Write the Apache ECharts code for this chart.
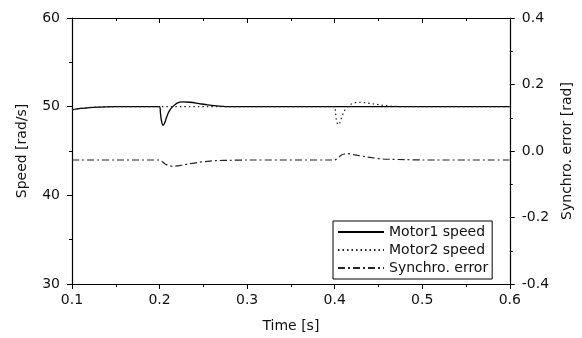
<!DOCTYPE html>
<html>
<head>
<meta charset="utf-8">
<script src="https://cdn.jsdelivr.net/npm/echarts@6/dist/echarts.min.js"></script>
<style>
  html, body { margin: 0; padding: 0; background: #fff; }
  #chart { width: 582px; height: 338px; }
</style>
</head>
<body>
<div id="chart"></div>
<script>
// time [s]
var time = [0.1, 0.11, 0.12, 0.13, 0.15, 0.2, 0.201, 0.202, 0.204, 0.206, 0.208, 0.211, 0.215, 0.22, 0.226, 0.235, 0.245, 0.255, 0.265, 0.28, 0.3,
  0.4, 0.401, 0.402, 0.404, 0.406, 0.408, 0.411, 0.415, 0.42, 0.426, 0.435, 0.445, 0.455, 0.465, 0.48, 0.5, 0.6];
// speed [rad/s]
var motor1 = [49.65, 49.8, 49.9, 49.95, 50, 50, 49.3, 48.5, 47.9, 48.2, 48.8, 49.5, 50.0, 50.4, 50.55, 50.5, 50.35, 50.2, 50.1, 50.0, 50,
  50, 50, 50, 50, 50, 50, 50, 50, 50, 50, 50, 50, 50, 50, 50, 50, 50];
var motor2 = [49.65, 49.8, 49.9, 49.95, 50, 50, 50, 50, 50, 50, 50, 50, 50, 50, 50, 50, 50, 50, 50, 50, 50,
  50, 49.3, 48.5, 47.95, 48.2, 48.8, 49.5, 50.0, 50.35, 50.5, 50.45, 50.3, 50.15, 50.05, 50, 50, 50];
// synchro error [rad]
var syncErr = [-0.027, -0.027, -0.027, -0.027, -0.027, -0.027, -0.028, -0.03, -0.034, -0.038, -0.041, -0.044, -0.046, -0.045, -0.042, -0.038, -0.034, -0.031, -0.029, -0.028, -0.027,
  -0.027, -0.026, -0.024, -0.02, -0.016, -0.012, -0.009, -0.008, -0.01, -0.013, -0.017, -0.021, -0.024, -0.025, -0.026, -0.027, -0.027];

var seriesNames = ['Motor1 speed', 'Motor2 speed', 'Synchro. error'];

function pairs(xs, ys) {
  var out = [];
  for (var i = 0; i < xs.length; i++) {
    out.push([xs[i], ys[i]]);
  }
  return out;
}

var font = 'DejaVu Sans';
var ink = '#111';

var chart = echarts.init(document.getElementById('chart'), null, { renderer: 'canvas' });
var option = {
  animation: false,
  backgroundColor: '#fff',
  grid: { left: 72, right: 72, top: 18, bottom: 51 },
  legend: {
    orient: 'vertical',
    left: 333,
    top: 221,
    data: seriesNames,
    itemWidth: 46,
    itemHeight: 14,
    itemGap: 4,
    padding: [4, 4, 4, 4],
    borderColor: '#000',
    borderWidth: 1,
    backgroundColor: '#fff',
    itemStyle: { opacity: 0 },
    textStyle: { fontFamily: font, fontSize: 14, color: ink, padding: [0, 0, 0, 0] }
  },
  xAxis: [{
    type: 'value',
    min: 0.1,
    max: 0.6,
    interval: 0.1,
    name: 'Time [s]',
    nameLocation: 'middle',
    nameGap: 35,
    nameTextStyle: { fontFamily: font, fontSize: 14, color: ink },
    axisLine: { onZero: false, lineStyle: { color: '#000', width: 1.2 } },
    axisTick: { show: true, length: 5, lineStyle: { color: '#000' } },
    minorTick: { show: true, splitNumber: 2, length: 3, lineStyle: { color: '#000' } },
    splitLine: { show: false },
    axisLabel: {
      margin: 9,
      fontFamily: font, fontSize: 14, color: ink,
      formatter: function (v) { return v.toFixed(1); }
    }
  }, {
    type: 'value',
    position: 'top',
    min: 0.1,
    max: 0.6,
    interval: 0.1,
    axisLine: { onZero: false, lineStyle: { color: '#000', width: 1.2 } },
    axisTick: { show: true, inside: true, length: 5, lineStyle: { color: '#000' } },
    minorTick: { show: true, splitNumber: 2, length: 3, lineStyle: { color: '#000' } },
    splitLine: { show: false },
    axisLabel: { show: false }
  }],
  yAxis: [{
    type: 'value',
    min: 30,
    max: 60,
    interval: 10,
    name: 'Speed [rad/s]',
    nameLocation: 'middle',
    nameRotate: 90,
    nameGap: 43,
    nameTextStyle: { fontFamily: font, fontSize: 14, color: ink },
    axisLine: { show: true, onZero: false, lineStyle: { color: '#000', width: 1.2 } },
    axisTick: { show: true, length: 5, lineStyle: { color: '#000' } },
    minorTick: { show: true, splitNumber: 2, length: 3, lineStyle: { color: '#000' } },
    splitLine: { show: false },
    axisLabel: { margin: 12, fontFamily: font, fontSize: 14, color: ink }
  }, {
    type: 'value',
    position: 'right',
    min: -0.4,
    max: 0.4,
    interval: 0.2,
    name: 'Synchro. error [rad]',
    nameLocation: 'middle',
    nameRotate: 90,
    nameGap: 49,
    nameTextStyle: { fontFamily: font, fontSize: 14, color: ink },
    axisLine: { show: true, onZero: false, lineStyle: { color: '#000', width: 1.2 } },
    axisTick: { show: true, length: 5, lineStyle: { color: '#000' } },
    minorTick: { show: true, splitNumber: 2, length: 3, lineStyle: { color: '#000' } },
    splitLine: { show: false },
    axisLabel: {
      margin: 12, fontFamily: font, fontSize: 14, color: ink,
      formatter: function (v) { return (Math.abs(v) < 1e-9 ? 0 : v).toFixed(1); }
    }
  }],
  series: [{
    name: seriesNames[0],
    type: 'line',
    yAxisIndex: 0,
    showSymbol: false,
    symbol: 'none',
    smooth: 0.3,
    color: '#000',
    lineStyle: { color: '#000', width: 1.3, type: 'solid' },
    data: pairs(time, motor1)
  }, {
    name: seriesNames[1],
    type: 'line',
    yAxisIndex: 0,
    showSymbol: false,
    symbol: 'none',
    smooth: 0.3,
    color: '#000',
    lineStyle: { color: '#222', width: 1.2, type: [1.5, 3] },
    data: pairs(time, motor2)
  }, {
    name: seriesNames[2],
    type: 'line',
    yAxisIndex: 1,
    showSymbol: false,
    symbol: 'none',
    smooth: 0.3,
    color: '#000',
    lineStyle: { color: '#222', width: 1.2, type: [7, 3, 2, 3] },
    data: pairs(time, syncErr)
  }]
};
chart.setOption(option);
</script>
</body>
</html>
